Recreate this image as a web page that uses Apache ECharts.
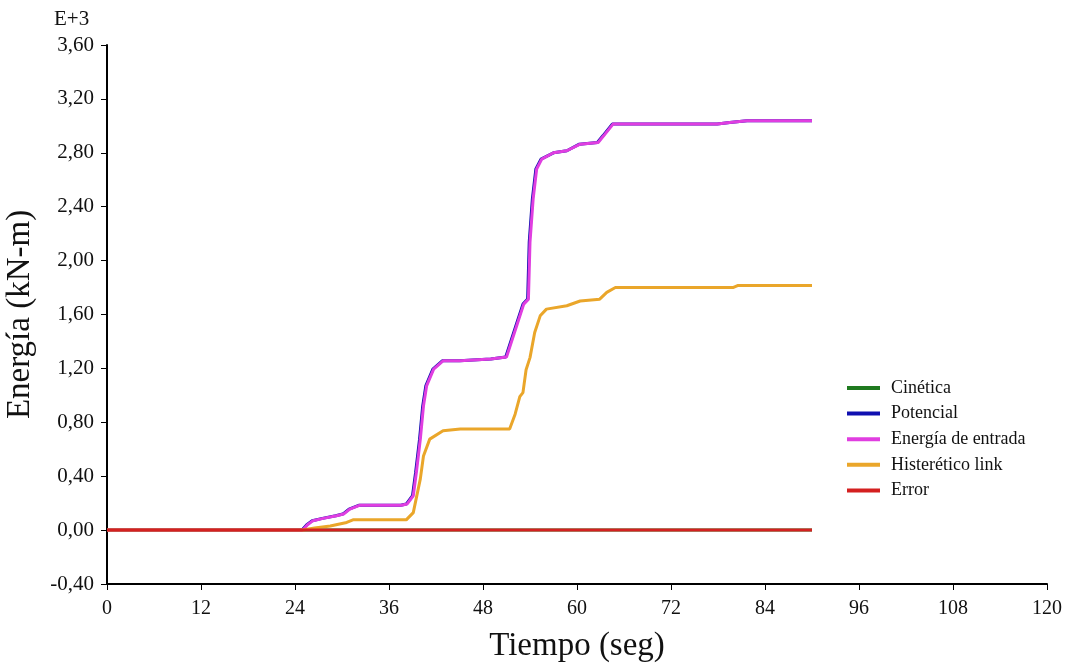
<!DOCTYPE html>
<html>
<head>
<meta charset="utf-8">
<script src="https://cdn.jsdelivr.net/npm/echarts@6/dist/echarts.min.js"></script>
<style>html,body{margin:0;padding:0;background:#fff}#c{width:1068px;height:666px}</style>
</head>
<body>
<div id="c"></div>
<script>
// Values in kN-m x 1000 (E+3)
var seriesNames = ["Cinética", "Potencial", "Energía de entrada", "Histerético link", "Error"];
var xTicks = [0, 12, 24, 36, 48, 60, 72, 84, 96, 108, 120];
var yTicks = [-0.40, 0.00, 0.40, 0.80, 1.20, 1.60, 2.00, 2.40, 2.80, 3.20, 3.60];

var timeKinetic = [0, 90];
var kineticVals = [0, 0];

var timePotential = [0, 24.9, 25.5, 26.2, 27.5, 29.2, 30.1, 30.9, 32.2, 37.5, 38.2, 39.0, 39.4, 39.9, 40.3, 40.7, 41.6, 42.8, 45.0, 49.0, 50.9, 52.2, 53.1, 53.7, 53.9, 54.3, 54.75, 55.4, 57.0, 58.7, 60.3, 62.6, 63.3, 64.5, 77.9, 79.5, 81.7, 90.0];
var potentialVals = [0, 0, 0.04, 0.07, 0.087, 0.106, 0.119, 0.156, 0.185, 0.185, 0.193, 0.255, 0.43, 0.675, 0.92, 1.07, 1.195, 1.256, 1.256, 1.27, 1.284, 1.516, 1.677, 1.714, 2.137, 2.456, 2.68, 2.753, 2.80, 2.815, 2.864, 2.877, 2.926, 3.013, 3.013, 3.025, 3.037, 3.037];

var timeInput = [0, 25.0, 25.6, 26.3, 27.6, 29.3, 30.2, 31.0, 32.3, 37.6, 38.3, 39.1, 39.5, 40.0, 40.4, 40.8, 41.7, 42.9, 45.1, 49.0, 51.0, 52.3, 53.2, 53.8, 54.0, 54.4, 54.85, 55.5, 57.0, 58.7, 60.4, 62.7, 63.4, 64.6, 77.9, 79.5, 81.7, 90.0];
var inputVals = [0, 0, 0.04, 0.07, 0.087, 0.106, 0.119, 0.156, 0.185, 0.185, 0.193, 0.255, 0.43, 0.675, 0.92, 1.07, 1.195, 1.256, 1.256, 1.27, 1.284, 1.516, 1.677, 1.714, 2.137, 2.456, 2.68, 2.753, 2.80, 2.815, 2.864, 2.877, 2.926, 3.013, 3.013, 3.025, 3.037, 3.037];

var timeHyst = [0, 25.0, 26.5, 28.5, 30.6, 31.4, 38.2, 39.1, 40.0, 40.4, 41.2, 42.9, 45.1, 51.4, 52.1, 52.7, 53.1, 53.5, 54.0, 54.6, 55.3, 56.1, 58.7, 60.4, 62.9, 63.8, 64.9, 79.9, 80.5, 90.0];
var hystVals = [0, 0, 0.015, 0.03, 0.057, 0.076, 0.076, 0.13, 0.38, 0.55, 0.675, 0.737, 0.75, 0.75, 0.86, 0.99, 1.02, 1.19, 1.28, 1.467, 1.59, 1.64, 1.665, 1.70, 1.714, 1.764, 1.80, 1.80, 1.815, 1.815];

var timeError = [0, 90];
var errorVals = [0, 0];

var colors = ["#1f7a1f", "#1010b0", "#e03ee0", "#eaa62a", "#d42020"];

function pairs(t, v) { return t.map(function (x, i) { return [x, v[i]]; }); }
var allData = [
  pairs(timeKinetic, kineticVals),
  pairs(timePotential, potentialVals),
  pairs(timeInput, inputVals),
  pairs(timeHyst, hystVals),
  pairs(timeError, errorVals)
];

var font = "Liberation Serif";
var chart = echarts.init(document.getElementById('c'));
chart.setOption({
  backgroundColor: '#fff',
  animation: false,
  grid: { left: 107, right: 21, top: 45, bottom: 82, containLabel: false, outerBoundsMode: 'none' },
  graphic: [{
    type: 'text', left: 54, top: 9,
    style: { text: 'E+3', font: '21px "Liberation Serif"', fill: '#111' }
  }],
  legend: {
    orient: 'vertical', left: 847, top: 379, itemGap: 7.6, padding: 0,
    icon: 'rect', itemWidth: 33, itemHeight: 4,
    textStyle: { fontFamily: font, fontSize: 18, color: '#111', padding: [0, 0, 0, 6] },
    data: seriesNames
  },
  xAxis: {
    type: 'value', min: 0, max: 120, interval: 12,
    name: 'Tiempo (seg)', nameLocation: 'middle', nameGap: 46,
    nameTextStyle: { fontFamily: font, fontSize: 33, color: '#111' },
    axisLine: { show: true, onZero: false, lineStyle: { color: '#000', width: 2 } },
    axisTick: { show: true, length: 6, lineStyle: { color: '#000', width: 1 } },
    axisLabel: { fontFamily: font, fontSize: 20, color: '#111', margin: 15 },
    splitLine: { show: false }
  },
  yAxis: {
    type: 'value', min: -0.4, max: 3.6, interval: 0.4,
    name: 'Energía (kN-m)', nameLocation: 'middle', nameGap: 70, nameRotate: 90,
    nameTextStyle: { fontFamily: font, fontSize: 33, color: '#111' },
    axisLine: { show: true, onZero: false, lineStyle: { color: '#000', width: 2 } },
    axisTick: { show: true, length: 6, lineStyle: { color: '#000', width: 1 } },
    axisLabel: {
      fontFamily: font, fontSize: 21, color: '#111', margin: 13,
      formatter: function (v) { return v.toFixed(2).replace('.', ','); }
    },
    splitLine: { show: false }
  },
  series: seriesNames.map(function (n, i) {
    return {
      name: n, type: 'line', data: allData[i], showSymbol: false, symbol: 'none',
      color: colors[i],
      lineStyle: { color: colors[i], width: 3 },
      z: 2 + i
    };
  })
});
</script>
</body>
</html>
